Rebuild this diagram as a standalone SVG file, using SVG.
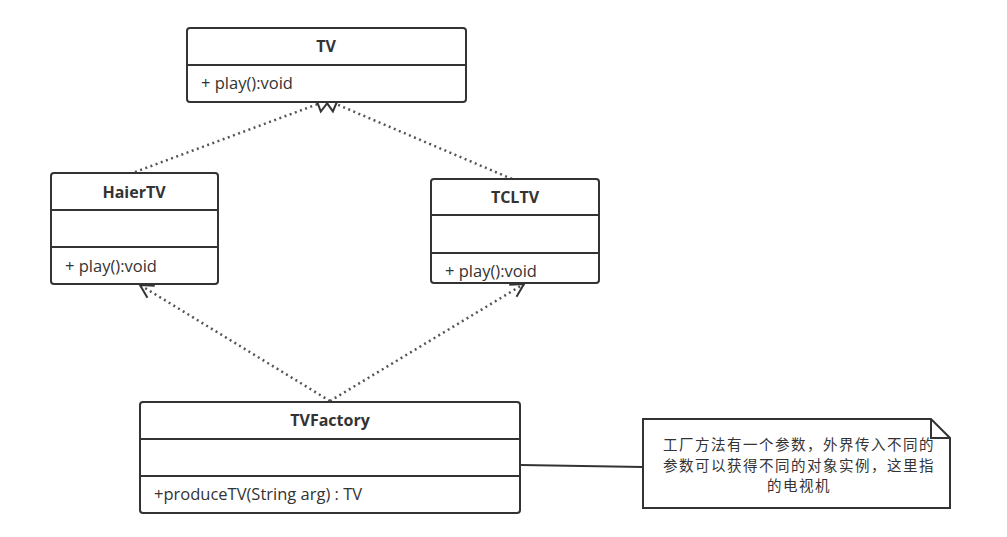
<svg xmlns="http://www.w3.org/2000/svg" width="1007" height="537" viewBox="0 0 1007 537">
<style>
.box{fill:#fff;stroke:#333;stroke-width:2}
.sep{stroke:#333;stroke-width:2}
.t{font-family:"Open Sans","Noto Sans CJK SC",sans-serif;font-size:16.5px;fill:#333}
.b{font-weight:bold;text-anchor:middle;font-size:16px}
.dot{fill:none;stroke:#555;stroke-width:2.5;stroke-dasharray:2 3.5}
.note{font-family:"Noto Sans CJK SC",sans-serif;font-size:14.5px;letter-spacing:1.5px;fill:#333;text-anchor:middle}
</style>
<defs>
<marker id="tri" markerWidth="24" markerHeight="24" refX="2" refY="10" orient="auto" markerUnits="userSpaceOnUse" viewBox="0 0 24 20">
<path d="M2,10 L15,2 L15,18 Z" fill="#fff" stroke="#333" stroke-width="2" transform="rotate(180 8.5 10)"/>
</marker>
<marker id="open" markerWidth="20" markerHeight="20" refX="15" refY="8" orient="auto" markerUnits="userSpaceOnUse" viewBox="0 0 20 16">
<path d="M2,1 L15,8 L2,15" fill="none" stroke="#333" stroke-width="2"/>
</marker>
</defs>
<g id="connectors">
<path class="dot" d="M135,172 L318,104" marker-end="url(#tri)"/>
<path class="dot" d="M512,179 L336,104" marker-end="url(#tri)"/>
<path class="dot" d="M330,401 L140,285" marker-end="url(#open)"/>
<path class="dot" d="M330,401 L524,284" marker-end="url(#open)"/>
<line x1="521" y1="465" x2="643" y2="467" stroke="#333" stroke-width="2"/>
</g>
<g id="TV">
<rect class="box" x="187" y="28" width="279" height="74" rx="3"/>
<line class="sep" x1="187" y1="65" x2="466" y2="65"/>
<text class="t b" x="326" y="52">TV</text>
<text class="t" x="201" y="89">+ play():void</text>
</g>
<g id="HaierTV">
<rect class="box" x="51" y="173" width="167" height="111" rx="3"/>
<line class="sep" x1="51" y1="210" x2="218" y2="210"/>
<line class="sep" x1="51" y1="247" x2="218" y2="247"/>
<text class="t b" x="134" y="198">HaierTV</text>
<text class="t" x="65" y="272">+ play():void</text>
</g>
<g id="TCLTV">
<rect class="box" x="431" y="179" width="168" height="104" rx="3"/>
<line class="sep" x1="431" y1="215" x2="599" y2="215"/>
<line class="sep" x1="431" y1="253" x2="599" y2="253"/>
<text class="t b" x="515" y="203">TCLTV</text>
<text class="t" x="445" y="277">+ play():void</text>
</g>
<g id="TVFactory">
<rect class="box" x="140" y="402" width="380" height="111" rx="3"/>
<line class="sep" x1="140" y1="439" x2="520" y2="439"/>
<line class="sep" x1="140" y1="476" x2="520" y2="476"/>
<text class="t b" x="330" y="426">TVFactory</text>
<text class="t" x="154" y="500">+produceTV(String arg) : TV</text>
</g>
<g id="note">
<path d="M643,419 L931,419 L950,438 L950,508 L643,508 Z" fill="#fff" stroke="#333" stroke-width="2"/>
<path d="M931,419 L931,438 L950,438" fill="none" stroke="#333" stroke-width="2"/>
<text class="note" x="799" y="450">工厂方法有一个参数，外界传入不同的</text>
<text class="note" x="799" y="471">参数可以获得不同的对象实例，这里指</text>
<text class="note" x="799" y="491">的电视机</text>
</g>
</svg>
